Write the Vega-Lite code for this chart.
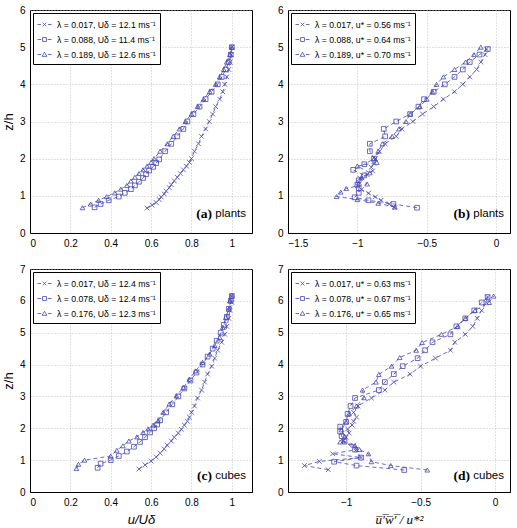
{
  "$schema": "https://vega.github.io/schema/vega-lite/v6.json",
  "padding": {"left": 1, "top": 4, "right": 2, "bottom": 2},
  "config": {
    "font": "Liberation Sans",
    "view": {"stroke": "black", "strokeWidth": 1},
    "axis": {
      "grid": true, "gridColor": "#b4b4b4", "gridDash": [1, 2], "gridWidth": 0.8,
      "domainColor": "black", "ticks": false, "labelPadding": 5,
      "labelFont": "Liberation Sans", "labelFontSize": 10, "labelColor": "black",
      "titleFont": "Liberation Sans", "titleFontSize": 13, "titleFontWeight": "normal", "titleColor": "black"
    },
    "legend": {
      "orient": "top-left", "offset": 3, "padding": 4, "fillColor": "white", "strokeColor": "black",
      "labelFont": "Liberation Sans", "labelFontSize": 8.7, "labelColor": "black", "labelOffset": 5,
      "symbolSize": 196, "rowPadding": 2, "symbolStrokeWidth": 0.8, "symbolStrokeColor": "#4646b4",
      "symbolFillColor": "transparent", "symbolOpacity": 1, "title": null
    }
  },
  "datasets": {
    "plantsMean": [
      {"lambda": "0.017", "value": 0.58, "z": 0.67}, {"lambda": "0.017", "value": 0.605, "z": 0.75}, {"lambda": "0.017", "value": 0.625, "z": 0.82}, {"lambda": "0.017", "value": 0.64, "z": 0.9}, {"lambda": "0.017", "value": 0.65, "z": 0.97}, {"lambda": "0.017", "value": 0.665, "z": 1.05}, {"lambda": "0.017", "value": 0.675, "z": 1.13}, {"lambda": "0.017", "value": 0.69, "z": 1.22}, {"lambda": "0.017", "value": 0.7, "z": 1.3}, {"lambda": "0.017", "value": 0.715, "z": 1.4}, {"lambda": "0.017", "value": 0.73, "z": 1.5}, {"lambda": "0.017", "value": 0.745, "z": 1.6}, {"lambda": "0.017", "value": 0.76, "z": 1.7}, {"lambda": "0.017", "value": 0.775, "z": 1.8}, {"lambda": "0.017", "value": 0.79, "z": 1.9}, {"lambda": "0.017", "value": 0.8, "z": 2.0}, {"lambda": "0.017", "value": 0.815, "z": 2.2}, {"lambda": "0.017", "value": 0.835, "z": 2.4}, {"lambda": "0.017", "value": 0.85, "z": 2.6}, {"lambda": "0.017", "value": 0.87, "z": 2.8}, {"lambda": "0.017", "value": 0.888, "z": 3.0}, {"lambda": "0.017", "value": 0.905, "z": 3.2}, {"lambda": "0.017", "value": 0.92, "z": 3.4}, {"lambda": "0.017", "value": 0.94, "z": 3.6}, {"lambda": "0.017", "value": 0.955, "z": 3.8}, {"lambda": "0.017", "value": 0.965, "z": 4.0}, {"lambda": "0.017", "value": 0.975, "z": 4.2}, {"lambda": "0.017", "value": 0.985, "z": 4.4}, {"lambda": "0.017", "value": 0.992, "z": 4.6}, {"lambda": "0.017", "value": 0.997, "z": 4.8}, {"lambda": "0.017", "value": 1.0, "z": 5.0},
      {"lambda": "0.088", "value": 0.32, "z": 0.69}, {"lambda": "0.088", "value": 0.35, "z": 0.78}, {"lambda": "0.088", "value": 0.39, "z": 0.88}, {"lambda": "0.088", "value": 0.44, "z": 0.98}, {"lambda": "0.088", "value": 0.47, "z": 1.08}, {"lambda": "0.088", "value": 0.5, "z": 1.18}, {"lambda": "0.088", "value": 0.52, "z": 1.28}, {"lambda": "0.088", "value": 0.54, "z": 1.38}, {"lambda": "0.088", "value": 0.56, "z": 1.48}, {"lambda": "0.088", "value": 0.575, "z": 1.58}, {"lambda": "0.088", "value": 0.59, "z": 1.68}, {"lambda": "0.088", "value": 0.61, "z": 1.78}, {"lambda": "0.088", "value": 0.625, "z": 1.88}, {"lambda": "0.088", "value": 0.64, "z": 1.98}, {"lambda": "0.088", "value": 0.67, "z": 2.2}, {"lambda": "0.088", "value": 0.7, "z": 2.4}, {"lambda": "0.088", "value": 0.73, "z": 2.6}, {"lambda": "0.088", "value": 0.76, "z": 2.8}, {"lambda": "0.088", "value": 0.78, "z": 3.0}, {"lambda": "0.088", "value": 0.81, "z": 3.2}, {"lambda": "0.088", "value": 0.84, "z": 3.4}, {"lambda": "0.088", "value": 0.87, "z": 3.6}, {"lambda": "0.088", "value": 0.9, "z": 3.8}, {"lambda": "0.088", "value": 0.93, "z": 4.0}, {"lambda": "0.088", "value": 0.95, "z": 4.2}, {"lambda": "0.088", "value": 0.97, "z": 4.4}, {"lambda": "0.088", "value": 0.985, "z": 4.6}, {"lambda": "0.088", "value": 0.995, "z": 4.8}, {"lambda": "0.088", "value": 1.0, "z": 5.0},
      {"lambda": "0.189", "value": 0.26, "z": 0.68}, {"lambda": "0.189", "value": 0.3, "z": 0.78}, {"lambda": "0.189", "value": 0.34, "z": 0.88}, {"lambda": "0.189", "value": 0.38, "z": 0.98}, {"lambda": "0.189", "value": 0.42, "z": 1.08}, {"lambda": "0.189", "value": 0.45, "z": 1.18}, {"lambda": "0.189", "value": 0.48, "z": 1.28}, {"lambda": "0.189", "value": 0.5, "z": 1.4}, {"lambda": "0.189", "value": 0.52, "z": 1.5}, {"lambda": "0.189", "value": 0.54, "z": 1.6}, {"lambda": "0.189", "value": 0.56, "z": 1.7}, {"lambda": "0.189", "value": 0.58, "z": 1.8}, {"lambda": "0.189", "value": 0.6, "z": 1.9}, {"lambda": "0.189", "value": 0.615, "z": 2.0}, {"lambda": "0.189", "value": 0.645, "z": 2.2}, {"lambda": "0.189", "value": 0.68, "z": 2.4}, {"lambda": "0.189", "value": 0.71, "z": 2.6}, {"lambda": "0.189", "value": 0.74, "z": 2.8}, {"lambda": "0.189", "value": 0.77, "z": 3.0}, {"lambda": "0.189", "value": 0.8, "z": 3.2}, {"lambda": "0.189", "value": 0.83, "z": 3.4}, {"lambda": "0.189", "value": 0.86, "z": 3.6}, {"lambda": "0.189", "value": 0.89, "z": 3.8}, {"lambda": "0.189", "value": 0.92, "z": 4.0}, {"lambda": "0.189", "value": 0.94, "z": 4.2}, {"lambda": "0.189", "value": 0.96, "z": 4.4}, {"lambda": "0.189", "value": 0.975, "z": 4.6}, {"lambda": "0.189", "value": 0.99, "z": 4.8}, {"lambda": "0.189", "value": 1.0, "z": 5.0}
    ],
    "plantsStress": [
      {"lambda": "0.017", "value": -0.73, "z": 0.68}, {"lambda": "0.017", "value": -0.77, "z": 0.78}, {"lambda": "0.017", "value": -0.83, "z": 0.88}, {"lambda": "0.017", "value": -0.87, "z": 0.97}, {"lambda": "0.017", "value": -0.92, "z": 1.07}, {"lambda": "0.017", "value": -0.97, "z": 1.17}, {"lambda": "0.017", "value": -1.0, "z": 1.27}, {"lambda": "0.017", "value": -0.99, "z": 1.37}, {"lambda": "0.017", "value": -0.98, "z": 1.47}, {"lambda": "0.017", "value": -0.93, "z": 1.57}, {"lambda": "0.017", "value": -0.89, "z": 1.67}, {"lambda": "0.017", "value": -0.9, "z": 1.77}, {"lambda": "0.017", "value": -0.88, "z": 1.87}, {"lambda": "0.017", "value": -0.87, "z": 2.0}, {"lambda": "0.017", "value": -0.84, "z": 2.2}, {"lambda": "0.017", "value": -0.8, "z": 2.4}, {"lambda": "0.017", "value": -0.72, "z": 2.6}, {"lambda": "0.017", "value": -0.68, "z": 2.8}, {"lambda": "0.017", "value": -0.6, "z": 3.0}, {"lambda": "0.017", "value": -0.53, "z": 3.2}, {"lambda": "0.017", "value": -0.45, "z": 3.4}, {"lambda": "0.017", "value": -0.38, "z": 3.6}, {"lambda": "0.017", "value": -0.3, "z": 3.8}, {"lambda": "0.017", "value": -0.24, "z": 4.0}, {"lambda": "0.017", "value": -0.19, "z": 4.2}, {"lambda": "0.017", "value": -0.14, "z": 4.4}, {"lambda": "0.017", "value": -0.11, "z": 4.6}, {"lambda": "0.017", "value": -0.08, "z": 4.8}, {"lambda": "0.017", "value": -0.07, "z": 4.95},
      {"lambda": "0.088", "value": -0.57, "z": 0.68}, {"lambda": "0.088", "value": -0.74, "z": 0.78}, {"lambda": "0.088", "value": -0.92, "z": 0.88}, {"lambda": "0.088", "value": -1.02, "z": 0.96}, {"lambda": "0.088", "value": -0.99, "z": 1.08}, {"lambda": "0.088", "value": -0.99, "z": 1.2}, {"lambda": "0.088", "value": -1.0, "z": 1.3}, {"lambda": "0.088", "value": -0.99, "z": 1.42}, {"lambda": "0.088", "value": -0.95, "z": 1.55}, {"lambda": "0.088", "value": -1.03, "z": 1.7}, {"lambda": "0.088", "value": -0.95, "z": 1.85}, {"lambda": "0.088", "value": -0.88, "z": 2.0}, {"lambda": "0.088", "value": -0.91, "z": 2.2}, {"lambda": "0.088", "value": -0.91, "z": 2.4}, {"lambda": "0.088", "value": -0.8, "z": 2.6}, {"lambda": "0.088", "value": -0.81, "z": 2.8}, {"lambda": "0.088", "value": -0.72, "z": 3.0}, {"lambda": "0.088", "value": -0.62, "z": 3.2}, {"lambda": "0.088", "value": -0.56, "z": 3.4}, {"lambda": "0.088", "value": -0.52, "z": 3.6}, {"lambda": "0.088", "value": -0.45, "z": 3.8}, {"lambda": "0.088", "value": -0.37, "z": 4.0}, {"lambda": "0.088", "value": -0.3, "z": 4.2}, {"lambda": "0.088", "value": -0.24, "z": 4.4}, {"lambda": "0.088", "value": -0.19, "z": 4.6}, {"lambda": "0.088", "value": -0.12, "z": 4.8}, {"lambda": "0.088", "value": -0.06, "z": 4.95},
      {"lambda": "0.189", "value": -0.73, "z": 0.7}, {"lambda": "0.189", "value": -0.85, "z": 0.8}, {"lambda": "0.189", "value": -1.0, "z": 0.9}, {"lambda": "0.189", "value": -1.15, "z": 0.98}, {"lambda": "0.189", "value": -1.12, "z": 1.1}, {"lambda": "0.189", "value": -1.08, "z": 1.2}, {"lambda": "0.189", "value": -0.93, "z": 1.32}, {"lambda": "0.189", "value": -0.97, "z": 1.5}, {"lambda": "0.189", "value": -0.91, "z": 1.62}, {"lambda": "0.189", "value": -1.0, "z": 1.8}, {"lambda": "0.189", "value": -0.86, "z": 1.9}, {"lambda": "0.189", "value": -0.88, "z": 2.0}, {"lambda": "0.189", "value": -0.85, "z": 2.2}, {"lambda": "0.189", "value": -0.82, "z": 2.4}, {"lambda": "0.189", "value": -0.75, "z": 2.6}, {"lambda": "0.189", "value": -0.7, "z": 2.8}, {"lambda": "0.189", "value": -0.65, "z": 3.0}, {"lambda": "0.189", "value": -0.62, "z": 3.2}, {"lambda": "0.189", "value": -0.55, "z": 3.4}, {"lambda": "0.189", "value": -0.5, "z": 3.6}, {"lambda": "0.189", "value": -0.46, "z": 3.8}, {"lambda": "0.189", "value": -0.43, "z": 4.0}, {"lambda": "0.189", "value": -0.38, "z": 4.2}, {"lambda": "0.189", "value": -0.3, "z": 4.4}, {"lambda": "0.189", "value": -0.22, "z": 4.6}, {"lambda": "0.189", "value": -0.16, "z": 4.8}, {"lambda": "0.189", "value": -0.11, "z": 5.0}
    ],
    "cubesMean": [
      {"lambda": "0.017", "value": 0.54, "z": 0.72}, {"lambda": "0.017", "value": 0.57, "z": 0.85}, {"lambda": "0.017", "value": 0.6, "z": 0.97}, {"lambda": "0.017", "value": 0.625, "z": 1.1}, {"lambda": "0.017", "value": 0.645, "z": 1.22}, {"lambda": "0.017", "value": 0.665, "z": 1.35}, {"lambda": "0.017", "value": 0.68, "z": 1.47}, {"lambda": "0.017", "value": 0.7, "z": 1.6}, {"lambda": "0.017", "value": 0.715, "z": 1.72}, {"lambda": "0.017", "value": 0.735, "z": 1.85}, {"lambda": "0.017", "value": 0.75, "z": 1.97}, {"lambda": "0.017", "value": 0.765, "z": 2.1}, {"lambda": "0.017", "value": 0.78, "z": 2.22}, {"lambda": "0.017", "value": 0.79, "z": 2.35}, {"lambda": "0.017", "value": 0.8, "z": 2.5}, {"lambda": "0.017", "value": 0.815, "z": 2.7}, {"lambda": "0.017", "value": 0.83, "z": 2.95}, {"lambda": "0.017", "value": 0.85, "z": 3.2}, {"lambda": "0.017", "value": 0.865, "z": 3.45}, {"lambda": "0.017", "value": 0.88, "z": 3.7}, {"lambda": "0.017", "value": 0.9, "z": 3.95}, {"lambda": "0.017", "value": 0.915, "z": 4.2}, {"lambda": "0.017", "value": 0.93, "z": 4.45}, {"lambda": "0.017", "value": 0.95, "z": 4.7}, {"lambda": "0.017", "value": 0.965, "z": 4.95}, {"lambda": "0.017", "value": 0.975, "z": 5.2}, {"lambda": "0.017", "value": 0.985, "z": 5.45}, {"lambda": "0.017", "value": 0.99, "z": 5.7}, {"lambda": "0.017", "value": 1.0, "z": 5.95}, {"lambda": "0.017", "value": 1.0, "z": 6.15},
      {"lambda": "0.078", "value": 0.335, "z": 0.76}, {"lambda": "0.078", "value": 0.35, "z": 0.89}, {"lambda": "0.078", "value": 0.4, "z": 1.0}, {"lambda": "0.078", "value": 0.44, "z": 1.13}, {"lambda": "0.078", "value": 0.48, "z": 1.27}, {"lambda": "0.078", "value": 0.515, "z": 1.42}, {"lambda": "0.078", "value": 0.545, "z": 1.57}, {"lambda": "0.078", "value": 0.57, "z": 1.72}, {"lambda": "0.078", "value": 0.595, "z": 1.87}, {"lambda": "0.078", "value": 0.615, "z": 2.0}, {"lambda": "0.078", "value": 0.63, "z": 2.12}, {"lambda": "0.078", "value": 0.645, "z": 2.25}, {"lambda": "0.078", "value": 0.675, "z": 2.5}, {"lambda": "0.078", "value": 0.705, "z": 2.75}, {"lambda": "0.078", "value": 0.735, "z": 3.0}, {"lambda": "0.078", "value": 0.765, "z": 3.25}, {"lambda": "0.078", "value": 0.795, "z": 3.5}, {"lambda": "0.078", "value": 0.825, "z": 3.75}, {"lambda": "0.078", "value": 0.855, "z": 4.0}, {"lambda": "0.078", "value": 0.88, "z": 4.25}, {"lambda": "0.078", "value": 0.905, "z": 4.5}, {"lambda": "0.078", "value": 0.925, "z": 4.75}, {"lambda": "0.078", "value": 0.945, "z": 5.0}, {"lambda": "0.078", "value": 0.96, "z": 5.25}, {"lambda": "0.078", "value": 0.975, "z": 5.5}, {"lambda": "0.078", "value": 0.985, "z": 5.75}, {"lambda": "0.078", "value": 0.995, "z": 6.0}, {"lambda": "0.078", "value": 1.0, "z": 6.15},
      {"lambda": "0.176", "value": 0.23, "z": 0.74}, {"lambda": "0.176", "value": 0.24, "z": 0.87}, {"lambda": "0.176", "value": 0.27, "z": 1.0}, {"lambda": "0.176", "value": 0.4, "z": 1.13}, {"lambda": "0.176", "value": 0.43, "z": 1.31}, {"lambda": "0.176", "value": 0.46, "z": 1.45}, {"lambda": "0.176", "value": 0.49, "z": 1.6}, {"lambda": "0.176", "value": 0.53, "z": 1.73}, {"lambda": "0.176", "value": 0.56, "z": 1.87}, {"lambda": "0.176", "value": 0.585, "z": 1.98}, {"lambda": "0.176", "value": 0.61, "z": 2.1}, {"lambda": "0.176", "value": 0.635, "z": 2.23}, {"lambda": "0.176", "value": 0.66, "z": 2.5}, {"lambda": "0.176", "value": 0.69, "z": 2.76}, {"lambda": "0.176", "value": 0.725, "z": 3.02}, {"lambda": "0.176", "value": 0.76, "z": 3.28}, {"lambda": "0.176", "value": 0.79, "z": 3.54}, {"lambda": "0.176", "value": 0.82, "z": 3.8}, {"lambda": "0.176", "value": 0.855, "z": 4.07}, {"lambda": "0.176", "value": 0.89, "z": 4.33}, {"lambda": "0.176", "value": 0.915, "z": 4.6}, {"lambda": "0.176", "value": 0.94, "z": 4.85}, {"lambda": "0.176", "value": 0.955, "z": 5.17}, {"lambda": "0.176", "value": 0.97, "z": 5.48}, {"lambda": "0.176", "value": 0.985, "z": 5.74}, {"lambda": "0.176", "value": 0.99, "z": 6.0}, {"lambda": "0.176", "value": 1.0, "z": 6.18}
    ],
    "cubesStress": [
      {"lambda": "0.017", "value": -1.12, "z": 0.7}, {"lambda": "0.017", "value": -1.28, "z": 0.83}, {"lambda": "0.017", "value": -1.18, "z": 0.96}, {"lambda": "0.017", "value": -0.9, "z": 1.08}, {"lambda": "0.017", "value": -1.09, "z": 1.2}, {"lambda": "0.017", "value": -0.93, "z": 1.33}, {"lambda": "0.017", "value": -0.95, "z": 1.47}, {"lambda": "0.017", "value": -1.02, "z": 1.6}, {"lambda": "0.017", "value": -1.0, "z": 1.72}, {"lambda": "0.017", "value": -0.98, "z": 1.85}, {"lambda": "0.017", "value": -0.99, "z": 1.98}, {"lambda": "0.017", "value": -0.96, "z": 2.1}, {"lambda": "0.017", "value": -0.95, "z": 2.22}, {"lambda": "0.017", "value": -0.93, "z": 2.35}, {"lambda": "0.017", "value": -0.95, "z": 2.5}, {"lambda": "0.017", "value": -0.92, "z": 2.7}, {"lambda": "0.017", "value": -0.83, "z": 2.95}, {"lambda": "0.017", "value": -0.74, "z": 3.2}, {"lambda": "0.017", "value": -0.68, "z": 3.45}, {"lambda": "0.017", "value": -0.57, "z": 3.7}, {"lambda": "0.017", "value": -0.5, "z": 3.95}, {"lambda": "0.017", "value": -0.4, "z": 4.2}, {"lambda": "0.017", "value": -0.3, "z": 4.45}, {"lambda": "0.017", "value": -0.27, "z": 4.7}, {"lambda": "0.017", "value": -0.2, "z": 4.95}, {"lambda": "0.017", "value": -0.15, "z": 5.2}, {"lambda": "0.017", "value": -0.12, "z": 5.45}, {"lambda": "0.017", "value": -0.09, "z": 5.7}, {"lambda": "0.017", "value": -0.06, "z": 5.95}, {"lambda": "0.017", "value": -0.05, "z": 6.12},
      {"lambda": "0.078", "value": -0.61, "z": 0.69}, {"lambda": "0.078", "value": -0.93, "z": 0.83}, {"lambda": "0.078", "value": -1.08, "z": 0.95}, {"lambda": "0.078", "value": -0.9, "z": 1.08}, {"lambda": "0.078", "value": -0.94, "z": 1.33}, {"lambda": "0.078", "value": -1.01, "z": 1.58}, {"lambda": "0.078", "value": -1.03, "z": 1.75}, {"lambda": "0.078", "value": -1.04, "z": 1.9}, {"lambda": "0.078", "value": -1.04, "z": 2.05}, {"lambda": "0.078", "value": -1.0, "z": 2.2}, {"lambda": "0.078", "value": -0.99, "z": 2.45}, {"lambda": "0.078", "value": -0.97, "z": 2.7}, {"lambda": "0.078", "value": -0.94, "z": 2.95}, {"lambda": "0.078", "value": -0.78, "z": 3.2}, {"lambda": "0.078", "value": -0.74, "z": 3.45}, {"lambda": "0.078", "value": -0.68, "z": 3.7}, {"lambda": "0.078", "value": -0.62, "z": 3.95}, {"lambda": "0.078", "value": -0.52, "z": 4.2}, {"lambda": "0.078", "value": -0.47, "z": 4.45}, {"lambda": "0.078", "value": -0.42, "z": 4.7}, {"lambda": "0.078", "value": -0.3, "z": 4.95}, {"lambda": "0.078", "value": -0.26, "z": 5.2}, {"lambda": "0.078", "value": -0.2, "z": 5.45}, {"lambda": "0.078", "value": -0.14, "z": 5.7}, {"lambda": "0.078", "value": -0.09, "z": 5.95}, {"lambda": "0.078", "value": -0.05, "z": 6.12},
      {"lambda": "0.176", "value": -0.455, "z": 0.69}, {"lambda": "0.176", "value": -0.7, "z": 0.83}, {"lambda": "0.176", "value": -0.83, "z": 0.95}, {"lambda": "0.176", "value": -0.85, "z": 1.2}, {"lambda": "0.176", "value": -0.91, "z": 1.33}, {"lambda": "0.176", "value": -0.94, "z": 1.45}, {"lambda": "0.176", "value": -1.04, "z": 1.57}, {"lambda": "0.176", "value": -1.01, "z": 1.75}, {"lambda": "0.176", "value": -1.03, "z": 1.95}, {"lambda": "0.176", "value": -1.0, "z": 2.2}, {"lambda": "0.176", "value": -0.98, "z": 2.45}, {"lambda": "0.176", "value": -0.93, "z": 2.7}, {"lambda": "0.176", "value": -0.88, "z": 2.96}, {"lambda": "0.176", "value": -0.89, "z": 3.2}, {"lambda": "0.176", "value": -0.8, "z": 3.45}, {"lambda": "0.176", "value": -0.78, "z": 3.69}, {"lambda": "0.176", "value": -0.695, "z": 3.95}, {"lambda": "0.176", "value": -0.64, "z": 4.22}, {"lambda": "0.176", "value": -0.53, "z": 4.45}, {"lambda": "0.176", "value": -0.49, "z": 4.69}, {"lambda": "0.176", "value": -0.36, "z": 4.95}, {"lambda": "0.176", "value": -0.25, "z": 5.2}, {"lambda": "0.176", "value": -0.2, "z": 5.45}, {"lambda": "0.176", "value": -0.135, "z": 5.7}, {"lambda": "0.176", "value": -0.04, "z": 5.95}, {"lambda": "0.176", "value": -0.01, "z": 6.15}
    ],
    "plantsLabel": [{"tag": "(a)", "name": "plants", "value": 1.1, "z": 0.5}],
    "plantsStressLabel": [{"tag": "(b)", "name": "plants", "value": 0.1, "z": 0.5}],
    "cubesLabel": [{"tag": "(c)", "name": "cubes", "value": 1.1, "z": 0.5}],
    "cubesStressLabel": [{"tag": "(d)", "name": "cubes", "value": 0.1, "z": 0.5}]
  },
  "columns": 2,
  "spacing": {"row": 36, "column": 36},
  "bounds": "flush",
  "concat": [
    {
      "width": 222, "height": 223,
      "data": {"name": "plantsMean"},
      "encoding": {
        "x": {"field": "value", "type": "quantitative", "scale": {"domain": [0, 1.1], "nice": false, "zero": false},
              "axis": {"values": [0, 0.2, 0.4, 0.6, 0.8, 1], "labelExpr": "format(datum.value, '~g')", "title": null}},
        "y": {"field": "z", "type": "quantitative", "scale": {"domain": [0, 6], "nice": false},
              "axis": {"values": [0, 1, 2, 3, 4, 5, 6], "title": "z/h", "titlePadding": 4}}
      },
      "layer": [
        {"mark": {"type": "line", "strokeDash": [4, 3], "strokeWidth": 0.8, "color": "#4646b4"},
         "encoding": {"detail": {"field": "lambda"}, "order": {"field": "z", "type": "quantitative"}}},
        {"mark": {"type": "point", "filled": false, "color": "#4646b4", "strokeWidth": 0.8, "size": 22, "opacity": 1},
         "encoding": {"shape": {"field": "lambda", "scale": {"domain": ["0.017", "0.088", "0.189"], "range": ["M-1,-1L1,1M-1,1L1,-1", "square", "triangle-up"]}, "legend": null}}},
        {"transform": [{"filter": "false"}],
         "mark": {"type": "point", "filled": false, "color": "#4646b4"},
         "encoding": {"shape": {"field": "lambda", "scale": {"domain": ["0.017", "0.088", "0.189"], "range": ["M-1,0H-0.5M0.5,0H1M-0.26,-0.26L0.26,0.26M-0.26,0.26L0.26,-0.26", "M-1,0H-0.45M0.45,0H1M-0.28,-0.28H0.28V0.28H-0.28Z", "M-1,0H-0.48M0.48,0H1M0,-0.32L0.34,0.26H-0.34Z"]},
           "legend": {"labelExpr": "datum.label == '0.017' ? 'λ = 0.017, Uδ = 12.1 ms⁻¹' : datum.label == '0.088' ? 'λ = 0.088, Uδ = 11.4 ms⁻¹' : 'λ = 0.189, Uδ = 12.6 ms⁻¹'"}}}},
        {"data": {"name": "plantsLabel"},
         "mark": {"type": "text", "align": "right", "baseline": "middle", "dx": -6, "font": "Liberation Sans", "fontSize": 11.5, "color": "black"},
         "encoding": {"text": {"field": "name"}}},
        {"data": {"name": "plantsLabel"},
         "mark": {"type": "text", "align": "right", "baseline": "middle", "dx": -40, "font": "Liberation Serif", "fontWeight": "bold", "fontSize": 13.5, "color": "black"},
         "encoding": {"text": {"field": "tag"}}}
      ],
      "resolve": {"scale": {"shape": "independent"}}
    },
    {
      "width": 222, "height": 223,
      "data": {"name": "plantsStress"},
      "encoding": {
        "x": {"field": "value", "type": "quantitative", "scale": {"domain": [-1.5, 0.1], "nice": false, "zero": false},
              "axis": {"values": [-1.5, -1, -0.5, 0], "labelExpr": "format(datum.value, '~g')", "title": null}},
        "y": {"field": "z", "type": "quantitative", "scale": {"domain": [0, 6], "nice": false},
              "axis": {"values": [0, 1, 2, 3, 4, 5, 6], "title": null}}
      },
      "layer": [
        {"mark": {"type": "line", "strokeDash": [4, 3], "strokeWidth": 0.8, "color": "#4646b4"},
         "encoding": {"detail": {"field": "lambda"}, "order": {"field": "z", "type": "quantitative"}}},
        {"mark": {"type": "point", "filled": false, "color": "#4646b4", "strokeWidth": 0.8, "size": 22, "opacity": 1},
         "encoding": {"shape": {"field": "lambda", "scale": {"domain": ["0.017", "0.088", "0.189"], "range": ["M-1,-1L1,1M-1,1L1,-1", "square", "triangle-up"]}, "legend": null}}},
        {"transform": [{"filter": "false"}],
         "mark": {"type": "point", "filled": false, "color": "#4646b4"},
         "encoding": {"shape": {"field": "lambda", "scale": {"domain": ["0.017", "0.088", "0.189"], "range": ["M-1,0H-0.5M0.5,0H1M-0.26,-0.26L0.26,0.26M-0.26,0.26L0.26,-0.26", "M-1,0H-0.45M0.45,0H1M-0.28,-0.28H0.28V0.28H-0.28Z", "M-1,0H-0.48M0.48,0H1M0,-0.32L0.34,0.26H-0.34Z"]},
           "legend": {"labelExpr": "datum.label == '0.017' ? 'λ = 0.017, u* = 0.56 ms⁻¹' : datum.label == '0.088' ? 'λ = 0.088, u* = 0.64 ms⁻¹' : 'λ = 0.189, u* = 0.70 ms⁻¹'"}}}},
        {"data": {"name": "plantsStressLabel"},
         "mark": {"type": "text", "align": "right", "baseline": "middle", "dx": -6, "font": "Liberation Sans", "fontSize": 11.5, "color": "black"},
         "encoding": {"text": {"field": "name"}}},
        {"data": {"name": "plantsStressLabel"},
         "mark": {"type": "text", "align": "right", "baseline": "middle", "dx": -40, "font": "Liberation Serif", "fontWeight": "bold", "fontSize": 13.5, "color": "black"},
         "encoding": {"text": {"field": "tag"}}}
      ],
      "resolve": {"scale": {"shape": "independent"}}
    },
    {
      "width": 222, "height": 223,
      "data": {"name": "cubesMean"},
      "encoding": {
        "x": {"field": "value", "type": "quantitative", "scale": {"domain": [0, 1.1], "nice": false, "zero": false},
              "axis": {"values": [0, 0.2, 0.4, 0.6, 0.8, 1], "labelExpr": "format(datum.value, '~g')", "title": "u/Uδ", "titleFontStyle": "italic", "titlePadding": 6}},
        "y": {"field": "z", "type": "quantitative", "scale": {"domain": [0, 7], "nice": false},
              "axis": {"values": [0, 1, 2, 3, 4, 5, 6, 7], "title": "z/h", "titlePadding": 4}}
      },
      "layer": [
        {"mark": {"type": "line", "strokeDash": [4, 3], "strokeWidth": 0.8, "color": "#4646b4"},
         "encoding": {"detail": {"field": "lambda"}, "order": {"field": "z", "type": "quantitative"}}},
        {"mark": {"type": "point", "filled": false, "color": "#4646b4", "strokeWidth": 0.8, "size": 22, "opacity": 1},
         "encoding": {"shape": {"field": "lambda", "scale": {"domain": ["0.017", "0.078", "0.176"], "range": ["M-1,-1L1,1M-1,1L1,-1", "square", "triangle-up"]}, "legend": null}}},
        {"transform": [{"filter": "false"}],
         "mark": {"type": "point", "filled": false, "color": "#4646b4"},
         "encoding": {"shape": {"field": "lambda", "scale": {"domain": ["0.017", "0.078", "0.176"], "range": ["M-1,0H-0.5M0.5,0H1M-0.26,-0.26L0.26,0.26M-0.26,0.26L0.26,-0.26", "M-1,0H-0.45M0.45,0H1M-0.28,-0.28H0.28V0.28H-0.28Z", "M-1,0H-0.48M0.48,0H1M0,-0.32L0.34,0.26H-0.34Z"]},
           "legend": {"labelExpr": "datum.label == '0.017' ? 'λ = 0.017, Uδ = 12.4 ms⁻¹' : datum.label == '0.078' ? 'λ = 0.078, Uδ = 12.4 ms⁻¹' : 'λ = 0.176, Uδ = 12.3 ms⁻¹'"}}}},
        {"data": {"name": "cubesLabel"},
         "mark": {"type": "text", "align": "right", "baseline": "middle", "dx": -6, "font": "Liberation Sans", "fontSize": 11.5, "color": "black"},
         "encoding": {"text": {"field": "name"}}},
        {"data": {"name": "cubesLabel"},
         "mark": {"type": "text", "align": "right", "baseline": "middle", "dx": -40, "font": "Liberation Serif", "fontWeight": "bold", "fontSize": 13.5, "color": "black"},
         "encoding": {"text": {"field": "tag"}}}
      ],
      "resolve": {"scale": {"shape": "independent"}}
    },
    {
      "width": 222, "height": 223,
      "data": {"name": "cubesStress"},
      "encoding": {
        "x": {"field": "value", "type": "quantitative", "scale": {"domain": [-1.39, 0.1], "nice": false, "zero": false},
              "axis": {"values": [-1, -0.5, 0], "labelExpr": "format(datum.value, '~g')", "title": "u̅′̅w̅′̅ / u*²", "titleFont": "Liberation Serif", "titleFontStyle": "italic", "titlePadding": 6}},
        "y": {"field": "z", "type": "quantitative", "scale": {"domain": [0, 7], "nice": false},
              "axis": {"values": [0, 1, 2, 3, 4, 5, 6, 7], "title": null}}
      },
      "layer": [
        {"mark": {"type": "line", "strokeDash": [4, 3], "strokeWidth": 0.8, "color": "#4646b4"},
         "encoding": {"detail": {"field": "lambda"}, "order": {"field": "z", "type": "quantitative"}}},
        {"mark": {"type": "point", "filled": false, "color": "#4646b4", "strokeWidth": 0.8, "size": 22, "opacity": 1},
         "encoding": {"shape": {"field": "lambda", "scale": {"domain": ["0.017", "0.078", "0.176"], "range": ["M-1,-1L1,1M-1,1L1,-1", "square", "triangle-up"]}, "legend": null}}},
        {"transform": [{"filter": "false"}],
         "mark": {"type": "point", "filled": false, "color": "#4646b4"},
         "encoding": {"shape": {"field": "lambda", "scale": {"domain": ["0.017", "0.078", "0.176"], "range": ["M-1,0H-0.5M0.5,0H1M-0.26,-0.26L0.26,0.26M-0.26,0.26L0.26,-0.26", "M-1,0H-0.45M0.45,0H1M-0.28,-0.28H0.28V0.28H-0.28Z", "M-1,0H-0.48M0.48,0H1M0,-0.32L0.34,0.26H-0.34Z"]},
           "legend": {"labelExpr": "datum.label == '0.017' ? 'λ = 0.017, u* = 0.63 ms⁻¹' : datum.label == '0.078' ? 'λ = 0.078, u* = 0.67 ms⁻¹' : 'λ = 0.176, u* = 0.65 ms⁻¹'"}}}},
        {"data": {"name": "cubesStressLabel"},
         "mark": {"type": "text", "align": "right", "baseline": "middle", "dx": -6, "font": "Liberation Sans", "fontSize": 11.5, "color": "black"},
         "encoding": {"text": {"field": "name"}}},
        {"data": {"name": "cubesStressLabel"},
         "mark": {"type": "text", "align": "right", "baseline": "middle", "dx": -40, "font": "Liberation Serif", "fontWeight": "bold", "fontSize": 13.5, "color": "black"},
         "encoding": {"text": {"field": "tag"}}}
      ],
      "resolve": {"scale": {"shape": "independent"}}
    }
  ]
}
